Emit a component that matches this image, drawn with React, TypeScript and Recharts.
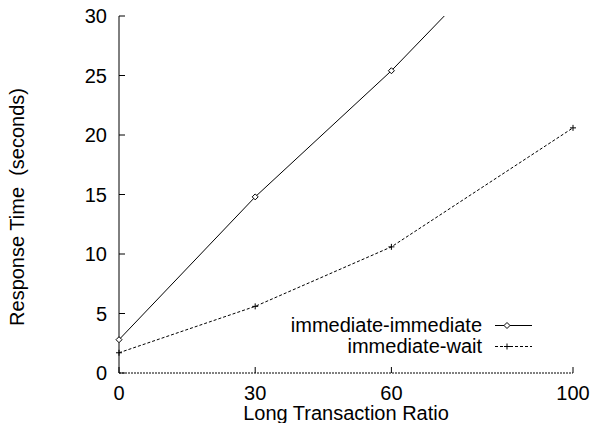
import { LineChart, Line, XAxis, YAxis, Legend } from "recharts";

// valores
const ratios = [0, 30, 60, 100];
const immediateImmediate = [2.8, 14.8, 25.4, 41.2];
const immediateWait = [1.7, 5.6, 10.6, 20.6];
const xTicks = [0, 30, 60, 100];
const yTicks = [0, 5, 10, 15, 20, 25, 30];

const data = ratios.map((r, i) => ({
  ratio: r,
  "immediate-immediate": immediateImmediate[i],
  "immediate-wait": immediateWait[i],
}));

const FONT = "'Liberation Sans', Arial, Helvetica, sans-serif";
const FS = 20;

const Diamond = (props: any) => {
  const { cx, cy } = props;
  if (cx == null || cy == null) return null;
  return (
    <path
      d={`M${cx},${cy - 3}L${cx + 3},${cy}L${cx},${cy + 3}L${cx - 3},${cy}Z`}
      fill="#fff"
      stroke="#000"
      strokeWidth={1}
    />
  );
};

const Plus = (props: any) => {
  const { cx, cy } = props;
  if (cx == null || cy == null) return null;
  return (
    <path
      d={`M${cx - 3},${cy}L${cx + 3},${cy}M${cx},${cy - 3}L${cx},${cy + 3}`}
      stroke="#000"
      strokeWidth={1}
    />
  );
};

const styles: { [key: string]: { dash?: string; marker: "diamond" | "plus" } } = {
  "immediate-immediate": { marker: "diamond" },
  "immediate-wait": { dash: "3 2", marker: "plus" },
};

const LegendContent = (props: any) => {
  const payload = props.payload || [];
  return (
    <div style={{ fontFamily: FONT, fontSize: FS, color: "#000" }}>
      {payload.map((entry: any) => {
        const s = styles[entry.value] || { marker: "diamond" };
        return (
          <div
            key={entry.value}
            style={{
              display: "flex",
              justifyContent: "flex-end",
              alignItems: "center",
              height: 21,
              lineHeight: "21px",
            }}
          >
            <span>{entry.value}</span>
            <svg width={50} height={21} style={{ display: "block" }}>
              <line
                x1={13}
                x2={50}
                y1={10.5}
                y2={10.5}
                stroke="#000"
                strokeDasharray={s.dash}
              />
              {s.marker === "diamond" ? (
                <Diamond cx={25} cy={10.5} />
              ) : (
                <Plus cx={25} cy={10.5} />
              )}
            </svg>
          </div>
        );
      })}
    </div>
  );
};

const XTitle = (props: any) => {
  const vb = props.viewBox || {};
  return (
    <text
      x={vb.x + vb.width / 2}
      y={420}
      textAnchor="middle"
      fontFamily={FONT}
      fontSize={FS}
      fill="#000"
    >
      Long Transaction Ratio
    </text>
  );
};

const YTitle = () => (
  <text
    x={24}
    y={207}
    transform="rotate(-90 24 207)"
    textAnchor="middle"
    fontFamily={FONT}
    fontSize={FS}
    fill="#000"
    style={{ whiteSpace: "pre" }}
  >
    {"Response Time  (seconds)"}
  </text>
);

export default function App() {
  const tickStyle = { fontFamily: FONT, fontSize: FS, fill: "#000" };
  return (
    <div style={{ position: "absolute", left: 0, top: 0 }}>
      <LineChart
        width={592}
        height={423}
        data={data}
        margin={{ top: 16, right: 19, bottom: 0, left: 0 }}
      >
        <XAxis
          xAxisId="bottom"
          dataKey="ratio"
          type="number"
          domain={[0, 100]}
          ticks={xTicks}
          height={50}
          tickSize={-6}
          tickMargin={19}
          tick={tickStyle}
          axisLine={{ stroke: "#000", strokeDasharray: "2 1" }}
          tickLine={{ stroke: "#000" }}
          label={{ content: <XTitle /> }}
        />
        <XAxis
          xAxisId="top"
          orientation="top"
          dataKey="ratio"
          type="number"
          domain={[0, 100]}
          ticks={xTicks}
          height={0}
          tickSize={-6}
          tick={false}
          axisLine={{ stroke: "#000" }}
          tickLine={{ stroke: "#000" }}
        />
        <YAxis
          yAxisId="left"
          type="number"
          domain={[0, 30]}
          allowDataOverflow
          ticks={yTicks}
          width={119}
          tickSize={-6}
          tickMargin={18}
          tick={tickStyle}
          axisLine={{ stroke: "#000" }}
          tickLine={{ stroke: "#000" }}
          label={{ content: <YTitle /> }}
        />
        <YAxis
          yAxisId="right"
          orientation="right"
          type="number"
          domain={[0, 30]}
          allowDataOverflow
          ticks={yTicks}
          width={0}
          tickSize={-6}
          tick={false}
          axisLine={{ stroke: "#000" }}
          tickLine={{ stroke: "#000" }}
        />
        <Legend
          layout="vertical"
          align="center"
          verticalAlign="middle"
          content={<LegendContent />}
          wrapperStyle={{ position: "absolute", left: 232, top: 315, width: 300, bottom: "auto" }}
        />
        <Line
          xAxisId="bottom"
          yAxisId="left"
          dataKey="immediate-immediate"
          stroke="#000"
          strokeWidth={1}
          dot={<Diamond />}
          activeDot={false}
          isAnimationActive={false}
        />
        <Line
          xAxisId="top"
          yAxisId="right"
          dataKey="immediate-wait"
          stroke="#000"
          strokeWidth={1}
          strokeDasharray="3 2"
          dot={<Plus />}
          activeDot={false}
          isAnimationActive={false}
        />
      </LineChart>
    </div>
  );
}
